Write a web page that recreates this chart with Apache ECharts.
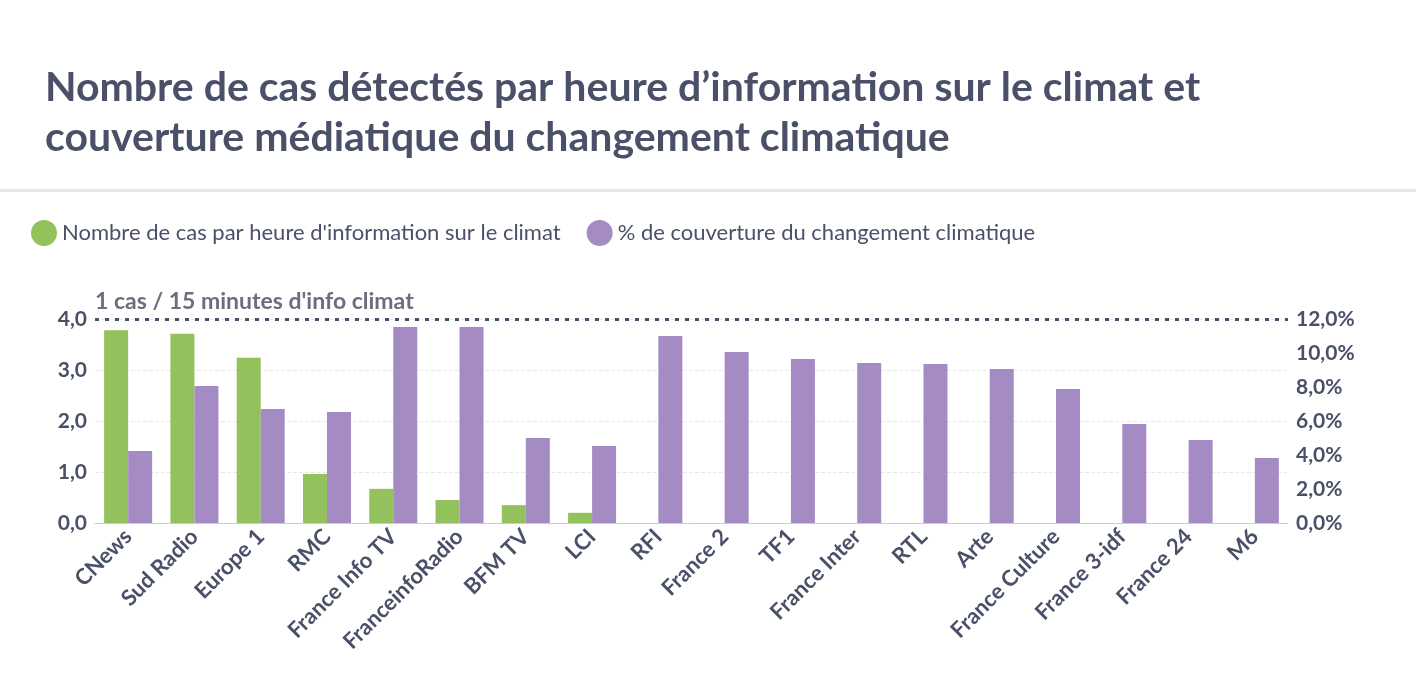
<!DOCTYPE html>
<html><head><meta charset="utf-8">
<script src="https://cdn.jsdelivr.net/npm/echarts@6/dist/echarts.min.js"></script>
<style>html,body{margin:0;background:#fff}#c{width:1416px;height:678px}</style>
</head><body><div id="c"></div>
<script>
const categories = ['CNews','Sud Radio','Europe 1','RMC','France Info TV','FranceinfoRadio','BFM TV','LCI','RFI','France 2','TF1','France Inter','RTL','Arte','France Culture','France 3-idf','France 24','M6'];
const casParHeure = [3.78,3.71,3.24,0.96,0.67,0.45,0.35,0.2,null,null,null,null,null,null,null,null,null,null];
const couverture = [4.24,8.06,6.7,6.53,11.53,11.53,5.0,4.53,11.0,10.06,9.65,9.41,9.35,9.06,7.88,5.82,4.88,3.82];
const seuil = 4.0;

const txt = '#4a5068';
const chart = echarts.init(document.getElementById('c'));
chart.setOption({
  textStyle: { fontFamily: 'Lato' },
  title: {
    text: 'Nombre de cas détectés par heure d’information sur le climat et\ncouverture médiatique du changement climatique',
    left: 40, top: 58,
    textStyle: { fontSize: 41, fontWeight: 'bold', color: txt, lineHeight: 50, fontFamily: 'Lato' }
  },
  graphic: [{ type: 'rect', shape: { x: 0, y: 189, width: 1416, height: 3 }, style: { fill: '#e6e6e6' } }],
  legend: {
    left: 26, top: 215, itemWidth: 26, itemHeight: 26, itemGap: 26, icon: 'circle',
    textStyle: { fontSize: 22, color: txt, fontFamily: 'Lato' }
  },
  grid: { left: 95, right: 128, top: 319, bottom: 155 },
  xAxis: {
    type: 'category', data: categories,
    axisTick: { show: false },
    axisLine: { lineStyle: { color: '#ccc' } },
    axisLabel: { rotate: 45, interval: 0, fontSize: 22, fontWeight: 'bold', color: txt, margin: 10 }
  },
  yAxis: [{
    type: 'value', min: 0, max: 4, interval: 1,
    axisLabel: { formatter: v => v.toFixed(1).replace('.', ','), fontSize: 21, fontWeight: 'bold', color: txt },
    splitLine: { lineStyle: { type: 'dashed', color: '#e8e8e8' } }
  }, {
    type: 'value', min: 0, max: 12, interval: 2,
    axisLabel: { formatter: v => v.toFixed(1).replace('.', ',') + '%', fontSize: 21, fontWeight: 'bold', color: txt, margin: 8 },
    splitLine: { show: false }
  }],
  series: [{
    name: "Nombre de cas par heure d'information sur le climat",
    type: 'bar', data: casParHeure, barWidth: 24, barGap: '0%',
    itemStyle: { color: '#93c15b' },
    markLine: {
      symbol: 'none', silent: true,
      lineStyle: { type: [4, 6], width: 3, color: '#4a5068' },
      label: { position: 'insideStartTop', formatter: "1 cas / 15 minutes d'info climat", fontSize: 23, fontWeight: 'bold', color: '#6b6e7f', distance: [0, 6] },
      data: [{ yAxis: seuil }]
    }
  }, {
    name: '% de couverture du changement climatique',
    type: 'bar', yAxisIndex: 1, data: couverture, barWidth: 24,
    itemStyle: { color: '#a48bc3' }
  }]
});
</script></body></html>
